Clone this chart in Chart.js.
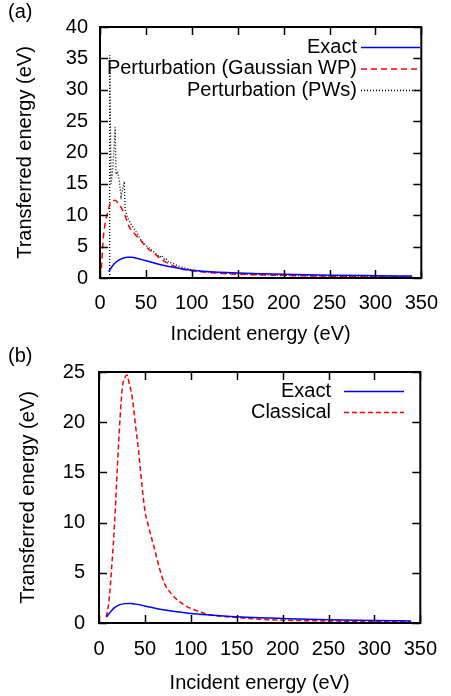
<!DOCTYPE html>
<html>
<head>
<meta charset="utf-8">
<script src="https://cdn.jsdelivr.net/npm/chart.js@4.4.1/dist/chart.umd.min.js"></script>
<style>
    body { margin: 0; background: #fff; }
    #wrap { position: relative; width: 451px; height: 696px; }
    canvas { position: absolute; left: 0; }
</style>
</head>
<body>
<div id="wrap">
    <canvas id="chartA" width="451" height="350" style="top:0"></canvas>
    <canvas id="chartB" width="451" height="356" style="top:340px"></canvas>
</div>
<script>
// panel (a)
const exactAX = [9.5, 12, 15, 20, 25, 30, 35, 40, 50, 60, 70, 80, 90, 100, 125, 150, 175, 200, 250, 300, 340];
const exactAY = [1.0, 1.6, 2.2, 2.8, 3.15, 3.3, 3.3, 3.15, 2.75, 2.35, 2.0, 1.7, 1.45, 1.25, 0.95, 0.8, 0.68, 0.58, 0.45, 0.37, 0.32];
const gaussAX = [1.5, 2.5, 4, 6, 8, 10.5, 13, 16.5, 20, 23.5, 27, 32, 38, 43, 50, 60, 67.5, 75, 85, 100, 120, 150, 200, 250, 300, 340];
const gaussAY = [1.5, 4.0, 7.0, 9.0, 10.3, 11.6, 12.2, 12.4, 11.9, 11.1, 10.0, 8.1, 7.0, 6.2, 5.0, 3.8, 2.9, 2.3, 1.6, 1.15, 0.85, 0.6, 0.4, 0.3, 0.22, 0.18];
const pwsAX = [10.5, 10.6, 12, 14, 16.5, 17.5, 19, 21, 23, 26.4, 27.5, 30, 35, 40, 45, 50, 55, 60, 65, 67, 70, 72, 75, 80, 85, 90, 100, 120, 150, 200, 250, 300, 340];
const pwsAY = [0, 35.5, 15, 17.5, 24, 16.5, 17, 15.5, 13, 15.4, 10.8, 9.6, 8.3, 7.2, 6.0, 5.2, 4.6, 4.0, 3.3, 3.6, 3.0, 3.1, 2.5, 2.3, 1.9, 1.7, 1.3, 0.9, 0.65, 0.42, 0.3, 0.22, 0.18];

// panel (b)
const exactBX = [8, 12, 16, 22, 28, 34.5, 40, 50, 60, 71.5, 85, 100, 120, 150, 175, 200, 250, 300, 340];
const exactBY = [0.6, 1.05, 1.45, 1.8, 1.93, 1.95, 1.88, 1.7, 1.5, 1.3, 1.12, 0.95, 0.8, 0.62, 0.52, 0.45, 0.33, 0.26, 0.2];
const classBX = [8, 11, 14, 17, 20, 23, 25.5, 28, 30.5, 33, 36, 40, 43, 47, 50, 54, 61, 66, 71.5, 78, 86, 92, 100, 110, 121, 135, 150, 175, 200, 250, 300, 340];
const classBY = [0.6, 2.3, 5.8, 10.0, 15.5, 20.5, 23.5, 24.4, 24.7, 23.8, 22.6, 19.5, 17.2, 13.5, 11.2, 9.6, 7.2, 5.4, 3.9, 3.0, 2.25, 1.85, 1.45, 1.1, 0.82, 0.65, 0.54, 0.38, 0.28, 0.2, 0.15, 0.13];

const xTicks = [0, 50, 100, 150, 200, 250, 300, 350];
const FONT = 'Liberation Sans, Arial, sans-serif';

function pts(xs, ys) {
    return xs.map((x, i) => ({ x: x, y: ys[i] }));
}

// gnuplot style box with inward ticks on all sides, legend on the right
const gnuFrame = {
    id: 'gnuFrame',
    afterDraw(chart, args, opts) {
        const ctx = chart.ctx;
        const a = chart.chartArea;
        const sx = chart.scales.x, sy = chart.scales.y;
        ctx.save();
        ctx.strokeStyle = '#000';
        ctx.lineWidth = 1.5;
        ctx.beginPath();
        sx.ticks.forEach(t => {
            const px = Math.round(sx.getPixelForValue(t.value)) + 0.5;
            ctx.moveTo(px, a.bottom); ctx.lineTo(px, a.bottom - 8);
            ctx.moveTo(px, a.top); ctx.lineTo(px, a.top + 8);
        });
        sy.ticks.forEach(t => {
            const py = Math.round(sy.getPixelForValue(t.value)) + 0.5;
            ctx.moveTo(a.left, py); ctx.lineTo(a.left + 8, py);
            ctx.moveTo(a.right, py); ctx.lineTo(a.right - 8, py);
        });
        ctx.stroke();
        ctx.lineWidth = 2;
        ctx.strokeRect(a.left, a.top, a.right - a.left, a.bottom - a.top);

        ctx.fillStyle = '#000';
        ctx.font = '20px ' + FONT;
        ctx.textBaseline = 'middle';
        ctx.textAlign = 'left';
        ctx.fillText(opts.tag, 8, opts.tagY);

        ctx.textAlign = 'right';
        chart.data.datasets.forEach((ds, i) => {
            const y = opts.legY + i * opts.legDy;
            ctx.fillStyle = '#000';
            ctx.fillText(ds.label, opts.textRight, y);
            ctx.strokeStyle = ds.borderColor;
            ctx.lineWidth = ds.borderWidth;
            ctx.setLineDash(ds.borderDash || []);
            ctx.beginPath();
            ctx.moveTo(opts.lineX1, y + 0.5);
            ctx.lineTo(opts.lineX2, y + 0.5);
            ctx.stroke();
        });
        ctx.restore();
    }
};

function makeChart(id, datasets, yMax, lay, frame) {
    return new Chart(document.getElementById(id), {
        type: 'line',
        data: { datasets: datasets },
        options: {
            responsive: false,
            devicePixelRatio: 1,
            animation: false,
            layout: { padding: { left: 0, top: lay.top, right: lay.right, bottom: 0 } },
            elements: { point: { radius: 0 } },
            plugins: { legend: { display: false }, tooltip: { enabled: false }, gnuFrame: frame },
            scales: {
                x: {
                    type: 'linear', min: 0, max: 350,
                    afterBuildTicks: s => { s.ticks = xTicks.map(v => ({ value: v })); },
                    grid: { display: false, drawTicks: false },
                    border: { display: false },
                    ticks: { color: '#000', padding: lay.xPad, font: { family: FONT, size: 20 }, maxRotation: 0 },
                    title: { display: true, text: 'Incident energy (eV)', color: '#000', font: { family: FONT, size: 20 }, padding: { top: 0, bottom: lay.xTitle } },
                    afterFit: s => { s.height = lay.xH; }
                },
                y: {
                    min: 0, max: yMax,
                    grid: { display: false, drawTicks: false },
                    border: { display: false },
                    ticks: { stepSize: 5, color: '#000', padding: lay.yPad, font: { family: FONT, size: 20 } },
                    title: { display: true, text: 'Transferred energy (eV)', color: '#000', font: { family: FONT, size: 20 }, padding: { top: lay.yTitle, bottom: 0 } },
                    afterFit: s => { s.width = lay.yW; }
                }
            }
        },
        plugins: [gnuFrame]
    });
}

makeChart('chartA', [
    { label: 'Exact', data: pts(exactAX, exactAY), borderColor: '#0000ff', borderWidth: 1.5, cubicInterpolationMode: 'monotone' },
    { label: 'Perturbation (Gaussian WP)', data: pts(gaussAX, gaussAY), borderColor: '#ff0000', borderWidth: 1.5, borderDash: [6, 4], cubicInterpolationMode: 'monotone' },
    { label: 'Perturbation (PWs)', data: pts(pwsAX, pwsAY), borderColor: '#000000', borderWidth: 1.3, borderDash: [1, 2], tension: 0 }
], 40,
    { top: 27, right: 20, xH: 72, xPad: 13, xTitle: 4, yW: 100, yPad: 12, yTitle: 13 },
    { tag: '(a)', tagY: 12, legY: 47, legDy: 21.5, textRight: 357, lineX1: 361, lineX2: 420 });

makeChart('chartB', [
    { label: 'Exact', data: pts(exactBX, exactBY), borderColor: '#0000ff', borderWidth: 1.5, cubicInterpolationMode: 'monotone' },
    { label: 'Classical', data: pts(classBX, classBY), borderColor: '#ff0000', borderWidth: 1.5, borderDash: [5, 3], cubicInterpolationMode: 'monotone' }
], 25,
    { top: 32, right: 22, xH: 73, xPad: 14, xTitle: 1, yW: 99, yPad: 14, yTitle: 16 },
    { tag: '(b)', tagY: 16, legY: 51, legDy: 21, textRight: 331, lineX1: 344, lineX2: 404 });
</script>
</body>
</html>
